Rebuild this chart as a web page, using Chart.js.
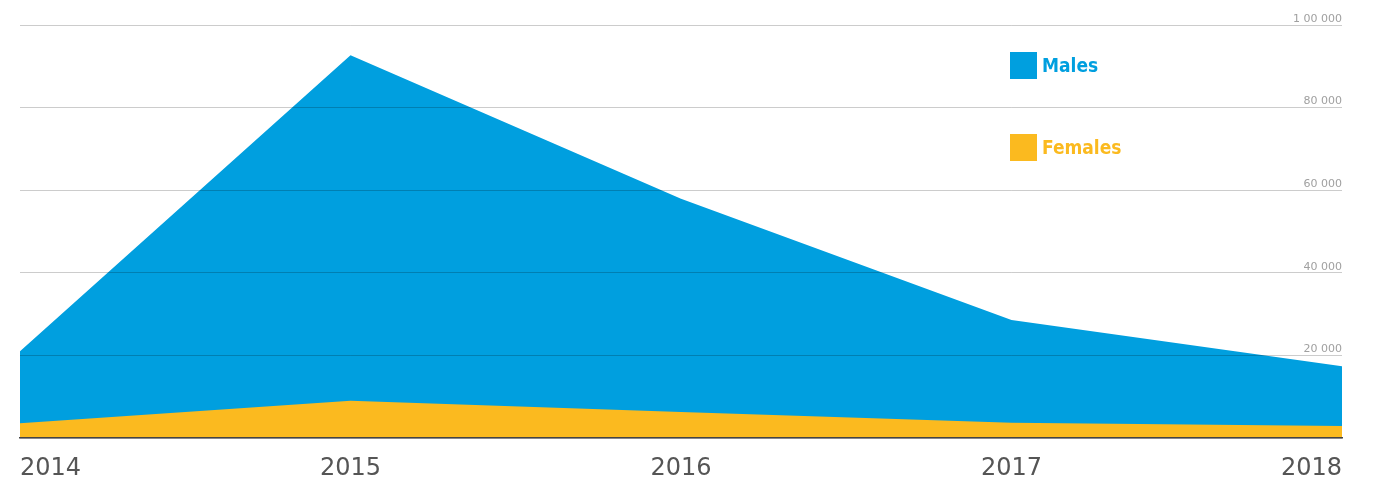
<!DOCTYPE html>
<html>
<head>
<meta charset="utf-8">
<script src="https://cdn.jsdelivr.net/npm/chart.js@4.4.1/dist/chart.umd.min.js"></script>
<style>
  html,body{margin:0;padding:0;background:#fff;}
  #wrap{position:relative;width:1376px;height:482px;}
  .leg{position:absolute;left:1010px;font-family:"DejaVu Sans Condensed","DejaVu Sans",sans-serif;font-weight:bold;font-size:19px;line-height:27px;}
  .leg span{display:inline-block;width:27px;height:27px;vertical-align:top;margin-right:5px;}
</style>
</head>
<body>
<div id="wrap">
  <canvas id="myChart" width="1376" height="482"></canvas>
  <div class="leg" style="top:52px;color:#009fdf"><span style="background:#009fdf"></span>Males</div>
  <div class="leg" style="top:134px;color:#fbba1f"><span style="background:#fbba1f"></span>Females</div>
</div>
<script>
var years=['2014','2015','2016','2017','2018'];
var males=[21000,92700,57900,28600,17400];
var females=[3600,9000,6300,3700,2900];
var yTicks=[0,20000,40000,60000,80000,100000];

// 100000 -> "1 00 000"
function fmt(v){
  if(v==0) return '';
  var s=String(v);
  if(s.length<=3) return s;
  var last=s.slice(-3), rest=s.slice(0,-3), parts=[];
  while(rest.length>2){ parts.unshift(rest.slice(-2)); rest=rest.slice(0,-2); }
  if(rest.length) parts.unshift(rest);
  return parts.join(' ')+' '+last;
}

var ctx=document.getElementById('myChart').getContext('2d');
var chart=new Chart(ctx,{
  type:'line',
  data:{
    labels:years,
    datasets:[{
      label:'Males',
      data:males,
      backgroundColor:'#009fdf',
      borderWidth:0,
      pointRadius:0,
      fill:'origin',
      tension:0,
      order:1
    },{
      label:'Females',
      data:females,
      backgroundColor:'#fbba1f',
      borderWidth:0,
      pointRadius:0,
      fill:'origin',
      tension:0,
      order:0
    }]
  },
  options:{
    responsive:false,
    animation:false,
    layout:{padding:{left:20,right:34,top:25,bottom:0}},
    plugins:{legend:{display:false},tooltip:{enabled:false}},
    scales:{
      x:{
        offset:false,
        afterFit:function(ax){ ax.height=44; ax.paddingLeft=0; ax.paddingRight=0; },
        grid:{display:false,drawTicks:false},
        border:{display:true,color:'#444',width:1.5,z:2},
        ticks:{color:'#555',font:{family:'DejaVu Sans',size:24},padding:16,align:'inner',maxRotation:0,autoSkip:false}
      },
      y:{
        position:'right',
        min:0,max:100000,
        z:1,
        afterBuildTicks:function(ax){ ax.ticks=yTicks.map(function(v){return {value:v};}); },
        grid:{color:'rgba(0,0,0,0.2)',lineWidth:1,drawTicks:false,z:1},
        border:{display:false},
        ticks:{mirror:true,padding:0,labelOffset:-6,color:'#a0a0a0',font:{family:'DejaVu Sans',size:11},callback:function(v){return fmt(v);}}
      }
    }
  }
});
</script>
</body>
</html>
